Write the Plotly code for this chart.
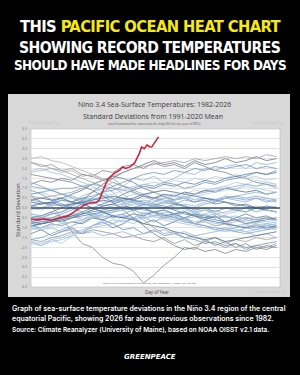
import plotly.graph_objects as go

# ---------------- data ----------------
days = list(range(1, 366, 15))  # 1,16,...,361

years = list(range(1982, 2026))
sd_values = {
    1982: [0.1,0.0,0.2,0.1,0.3,0.6,0.8,1.0,1.3,1.1,1.5,1.4,1.6,1.3,1.5,1.8,1.7,2.0,1.9,2.1,2.2,2.0,2.3,2.2,2.3],
    1983: [2.3,2.1,2.2,1.9,2.0,1.7,1.6,1.4,1.5,1.1,0.9,0.7,0.5,0.6,0.2,0.1,-0.3,-0.5,-0.4,-0.8,-0.9,-1.0,-0.8,-1.1,-0.9],
    1984: [-0.3,-0.4,-0.2,-0.5,-0.3,-0.6,-0.4,-0.2,-0.5,-0.3,-0.6,-0.4,-0.7,-0.5,-0.3,-0.6,-0.4,-0.7,-0.9,-0.8,-1.1,-1.2,-1.4,-1.3,-1.5],
    1985: [-1.3,-1.1,-1.4,-1.2,-1.0,-1.3,-0.9,-0.7,-1.0,-0.8,-0.5,-0.8,-0.6,-0.9,-0.7,-0.5,-0.8,-0.6,-0.4,-0.7,-0.5,-0.3,-0.5,-0.4,-0.6],
    1986: [-0.6,-0.7,-0.5,-0.8,-0.4,-0.6,-0.3,-0.5,-0.2,0.0,0.2,0.1,0.3,0.5,0.4,0.7,0.9,0.8,1.0,1.1,0.9,1.2,1.1,1.3,1.2],
    1987: [1.2,1.4,1.3,1.5,1.4,1.7,1.6,1.9,1.8,2.1,2.2,2.0,2.3,2.1,2.2,2.0,2.3,2.1,1.9,1.8,1.6,1.5,1.3,1.2,1.1],
    1988: [0.6,0.3,0.1,-0.5,-1.2,-1.8,-2.0,-2.5,-2.8,-2.9,-3.2,-3.8,-3.4,-2.9,-2.5,-2.0,-2.1,-1.6,-1.9,-1.7,-2.0,-1.8,-2.1,-1.9,-2.0],
    1989: [-1.7,-1.9,-1.6,-1.8,-1.4,-1.2,-0.9,-0.6,-0.8,-0.4,-0.5,-0.2,-0.4,-0.3,-0.5,-0.2,-0.4,-0.3,-0.1,-0.3,-0.2,0.0,-0.2,0.1,0.0],
    1990: [0.1,0.3,0.2,0.4,0.3,0.5,0.4,0.6,0.5,0.3,0.4,0.2,0.5,0.3,0.4,0.6,0.4,0.5,0.3,0.5,0.4,0.3,0.5,0.4,0.3],
    1991: [0.4,0.3,0.2,0.4,0.3,0.5,0.6,0.8,0.9,1.1,1.0,1.2,1.1,1.3,1.2,1.0,1.1,1.3,1.2,1.4,1.5,1.6,1.8,1.7,1.9],
    1992: [1.8,1.9,2.0,1.8,1.9,1.6,1.7,1.5,1.3,1.1,0.8,0.6,0.4,0.2,0.3,0.0,-0.2,-0.1,-0.3,-0.2,-0.1,0.0,0.1,0.0,0.1],
    1993: [0.1,0.2,0.3,0.5,0.7,0.9,1.2,1.4,1.6,1.5,1.3,1.0,0.8,0.6,0.4,0.5,0.3,0.4,0.2,0.3,0.1,0.2,0.0,0.1,0.0],
    1994: [0.0,-0.1,0.1,0.2,0.1,0.3,0.4,0.5,0.6,0.5,0.7,0.6,0.8,0.6,0.7,0.5,0.7,0.9,1.0,1.1,1.3,1.2,1.4,1.3,1.2],
    1995: [1.1,1.0,0.9,0.7,0.6,0.4,0.3,0.1,0.2,0.0,-0.1,-0.3,-0.2,-0.5,-0.4,-0.7,-0.8,-0.9,-1.1,-1.0,-1.2,-1.0,-1.1,-0.9,-1.0],
    1996: [-0.9,-1.0,-0.8,-0.9,-0.7,-0.8,-0.5,-0.6,-0.4,-0.5,-0.3,-0.4,-0.2,-0.4,-0.3,-0.5,-0.3,-0.4,-0.5,-0.4,-0.6,-0.5,-0.6,-0.5,-0.6],
    1997: [-0.6,-0.5,-0.3,-0.2,0.1,0.4,0.8,1.2,1.5,1.8,2.0,2.2,2.4,2.2,2.3,2.1,2.4,2.2,2.3,2.5,2.3,2.4,2.6,2.4,2.5],
    1998: [2.3,2.2,2.0,1.9,1.7,1.5,1.3,1.1,0.8,0.3,-0.2,-0.6,-1.0,-1.3,-1.2,-1.5,-1.4,-1.7,-1.5,-1.8,-1.6,-1.7,-1.5,-1.6,-1.5],
    1999: [-1.6,-1.7,-1.5,-1.4,-1.2,-1.3,-1.1,-1.2,-1.3,-1.5,-1.4,-1.6,-1.7,-1.5,-1.8,-1.6,-1.9,-1.7,-1.8,-2.0,-1.8,-2.1,-1.9,-2.0,-1.8],
    2000: [-1.8,-1.9,-1.7,-1.6,-1.4,-1.2,-1.0,-0.9,-0.8,-0.6,-0.8,-0.5,-0.7,-0.4,-0.6,-0.5,-0.7,-0.6,-0.8,-0.7,-0.9,-0.8,-1.0,-0.9,-0.8],
    2001: [-0.8,-0.7,-0.6,-0.5,-0.4,-0.3,-0.2,-0.1,0.0,0.1,0.0,0.2,0.1,0.0,0.2,0.1,-0.1,0.0,-0.2,0.0,-0.1,-0.2,0.0,-0.1,-0.2],
    2002: [-0.1,0.0,0.1,0.2,0.1,0.3,0.4,0.6,0.7,0.9,1.1,1.2,1.3,1.2,1.4,1.3,1.5,1.4,1.6,1.5,1.7,1.5,1.6,1.4,1.5],
    2003: [1.3,1.1,0.9,0.7,0.5,0.3,0.0,-0.2,-0.4,-0.3,-0.1,0.0,0.1,0.3,0.2,0.4,0.3,0.5,0.4,0.6,0.5,0.4,0.5,0.3,0.4],
    2004: [0.3,0.2,0.3,0.1,0.2,0.3,0.2,0.4,0.3,0.5,0.4,0.6,0.5,0.7,0.6,0.8,0.7,0.9,0.8,1.0,0.9,0.8,0.9,0.7,0.8],
    2005: [0.7,0.8,0.6,0.5,0.6,0.4,0.5,0.3,0.4,0.2,0.3,0.1,0.2,0.0,-0.1,0.0,-0.2,-0.1,-0.3,-0.4,-0.6,-0.7,-0.8,-0.9,-0.8],
    2006: [-0.9,-0.8,-0.7,-0.6,-0.4,-0.3,-0.1,0.0,0.1,0.2,0.3,0.4,0.3,0.5,0.6,0.5,0.7,0.8,0.9,1.0,1.1,1.2,1.1,1.2,1.0],
    2007: [0.9,0.7,0.4,0.2,0.0,-0.2,-0.4,-0.6,-0.8,-1.1,-1.0,-1.3,-1.1,-1.4,-1.3,-1.5,-1.6,-1.8,-1.7,-1.9,-1.8,-2.0,-1.9,-1.8,-1.7],
    2008: [-1.7,-1.8,-1.6,-1.5,-1.3,-1.1,-0.9,-0.8,-0.6,-0.7,-0.5,-0.3,-0.4,-0.2,-0.3,-0.1,-0.2,-0.4,-0.3,-0.5,-0.4,-0.6,-0.7,-0.8,-0.9],
    2009: [-0.9,-0.8,-0.7,-0.5,-0.4,-0.2,0.0,0.2,0.4,0.7,0.9,1.1,1.0,1.2,1.1,1.3,1.2,1.4,1.3,1.5,1.6,1.7,1.8,1.7,1.8],
    2010: [1.7,1.6,1.5,1.4,1.3,1.1,0.9,0.6,0.3,-0.1,-0.5,-0.9,-1.3,-1.6,-1.9,-2.1,-2.0,-2.2,-2.1,-2.3,-2.1,-2.2,-2.0,-2.1,-1.9],
    2011: [-1.6,-1.5,-1.3,-1.1,-0.9,-0.7,-0.5,-0.3,-0.2,-0.1,0.0,-0.1,-0.2,-0.3,-0.5,-0.6,-0.8,-0.9,-1.0,-1.1,-1.2,-1.3,-1.2,-1.1,-1.0],
    2012: [-0.9,-0.8,-0.7,-0.6,-0.5,-0.3,-0.1,0.1,0.2,0.4,0.5,0.7,0.8,0.9,0.8,0.7,0.6,0.5,0.4,0.3,0.2,0.1,0.0,-0.1,-0.2],
    2013: [-0.3,-0.4,-0.5,-0.4,-0.3,-0.2,-0.3,-0.4,-0.5,-0.4,-0.6,-0.5,-0.4,-0.3,-0.4,-0.2,-0.3,-0.1,-0.2,0.0,-0.1,0.0,-0.2,-0.1,-0.2],
    2014: [-0.4,-0.5,-0.3,-0.2,0.0,0.2,0.4,0.6,0.5,0.4,0.3,0.2,0.1,0.0,0.1,0.2,0.1,0.3,0.4,0.5,0.6,0.7,0.8,0.7,0.8],
    2015: [0.6,0.5,0.6,0.7,0.8,1.0,1.2,1.4,1.6,1.8,2.0,2.1,2.2,2.3,2.4,2.3,2.5,2.4,2.5,2.6,2.5,2.6,2.5,2.7,2.6],
    2016: [2.5,2.6,2.4,2.3,2.1,1.9,1.7,1.4,1.1,0.7,0.3,0.0,-0.3,-0.5,-0.6,-0.7,-0.8,-0.7,-0.9,-0.8,-0.7,-0.6,-0.7,-0.5,-0.6],
    2017: [-0.5,-0.4,-0.2,0.0,0.2,0.3,0.4,0.5,0.6,0.5,0.4,0.3,0.2,0.1,-0.1,-0.3,-0.4,-0.6,-0.7,-0.8,-0.9,-1.0,-0.9,-1.0,-0.9],
    2018: [-0.9,-1.0,-0.8,-0.9,-0.7,-0.6,-0.4,-0.3,-0.1,0.1,0.2,0.3,0.2,0.3,0.4,0.5,0.6,0.7,0.8,0.9,1.0,1.1,1.0,0.9,0.8],
    2019: [0.7,0.8,0.9,1.0,1.0,1.1,1.2,1.1,1.0,0.9,0.8,0.6,0.5,0.4,0.3,0.1,0.0,0.2,0.3,0.5,0.6,0.5,0.6,0.5,0.4],
    2020: [0.4,0.5,0.4,0.5,0.3,0.2,0.0,-0.2,-0.4,-0.5,-0.6,-0.8,-0.9,-1.0,-1.2,-1.3,-1.5,-1.6,-1.5,-1.7,-1.6,-1.5,-1.4,-1.3,-1.2],
    2021: [-1.1,-1.0,-0.9,-0.8,-0.7,-0.6,-0.5,-0.4,-0.5,-0.4,-0.3,-0.5,-0.4,-0.6,-0.7,-0.8,-0.9,-1.0,-1.1,-1.2,-1.1,-1.2,-1.1,-1.0,-1.1],
    2022: [-1.0,-1.1,-1.0,-1.2,-1.1,-1.3,-1.2,-1.4,-1.3,-1.2,-1.4,-1.3,-1.2,-1.1,-1.3,-1.2,-1.4,-1.3,-1.2,-1.1,-1.0,-0.9,-1.0,-0.8,-0.7],
    2023: [-0.7,-0.6,-0.5,-0.3,-0.1,0.2,0.5,0.8,1.1,1.3,1.5,1.7,1.8,1.7,1.9,1.8,2.0,1.9,2.1,2.0,2.1,2.2,2.0,2.1,2.0],
    2024: [1.9,2.0,1.8,1.7,1.5,1.3,1.1,0.8,0.5,0.3,0.1,0.0,-0.2,-0.1,-0.3,-0.2,-0.4,-0.3,-0.5,-0.4,-0.6,-0.5,-0.6,-0.7,-0.6],
    2025: [-0.7,-0.8,-0.6,-0.7,-0.5,-0.4,-0.3,-0.2,-0.1,0.0,-0.1,0.0,-0.2,-0.1,-0.3,-0.2,-0.4,-0.5,-0.6,-0.7,-0.6,-0.8,-0.7,-0.6,-0.5],
}

days_2026 = [1, 10, 20, 30, 43, 55, 62, 72, 79, 87, 97, 101, 107, 113, 118, 123, 131, 135, 140, 146, 153, 160, 163, 167, 171, 175, 178, 182, 185, 188]
sd_2026 = [-0.56, -0.6, -0.55, -0.62, -0.5, -0.4, -0.25, 0.0, 0.15, 0.25, 0.3, 0.4, 0.9, 1.42, 1.6, 1.75, 1.92, 2.08, 2.0, 2.08, 2.28, 2.78, 3.09, 3.0, 3.19, 3.1, 3.09, 3.34, 3.45, 3.6]

y_ticks = [4.0, 3.5, 3.0, 2.5, 2.0, 1.5, 1.0, 0.5, 0.0, -0.5, -1.0, -1.5, -2.0, -2.5, -3.0, -3.5, -4.0]
y_tick_labels = ["4.0", "3.5", "3.0", "2.5", "2.0", "1.5", "1.0", "0.5", "0.0", "-0.5", "-1.0", "-1.5", "-2.0", "-2.5", "-3.0", "-3.5", "-4.0"]

# ---------------- styling ----------------
blues = ["#8fb3d9", "#6d93bf", "#9dbfe0", "#5b7fa8", "#b5cce3", "#7aa3cf", "#4f6f94", "#a6c3e0"]
grays = {1983: "#9a9a9a", 1987: "#7c838c", 1988: "#8a8a8a", 1992: "#b0b0b0", 1997: "#6f7680",
         1998: "#a3a3a3", 2010: "#7c838c", 2015: "#9aa1a8", 2016: "#b3b3b3", 1999: "#8d939a"}

W, H = 300, 375
L, R, T, B = 31, 20, 129, 88
PW, PH = W - L - R, H - T - B


def px(x):
    return (x - L) / PW


def py(y):
    return (H - B - y) / PH


fig = go.Figure()
for i, yr in enumerate(years):
    col = grays.get(yr, blues[i % len(blues)])
    fig.add_trace(go.Scatter(x=days, y=sd_values[yr], mode="lines", name=str(yr),
                             line=dict(color=col, width=0.8),
                             showlegend=False, hoverinfo="skip"))

fig.add_trace(go.Scatter(x=[1, 366], y=[0, 0], mode="lines",
                         line=dict(color="#3d5169", width=1.4), showlegend=False, hoverinfo="skip"))
fig.add_trace(go.Scatter(x=days_2026, y=sd_2026, mode="lines", name="2026",
                         line=dict(color="#c8283f", width=1.6), showlegend=False))

shapes = [
    dict(type="rect", xref="paper", yref="paper", x0=px(8), x1=px(290), y0=py(297), y1=py(94),
         fillcolor="#d8d8d8", line=dict(width=0), layer="below"),
    dict(type="rect", xref="paper", yref="paper", x0=0, x1=1, y0=0, y1=1,
         fillcolor="#ffffff", line=dict(color="#bdbdbd", width=0.6), layer="below"),
]

head_font = "DejaVu Sans Condensed, Liberation Sans Narrow, sans-serif"
tight = "<span style='letter-spacing:-0.6px'>"
body_font = "Inter, sans-serif"
annotations = [
    dict(text="<b>" + tight + "THIS <span style='color:#f6e816'>PACIFIC OCEAN HEAT CHART</span></span></b>",
         x=px(150), y=py(27), font=dict(family=head_font, size=16.4, color="#ffffff")),
    dict(text="<b>" + tight + "SHOWING RECORD TEMPERATURES</span></b>",
         x=px(150), y=py(48), font=dict(family=head_font, size=15.6, color="#ffffff")),
    dict(text="<b>" + tight + "SHOULD HAVE MADE HEADLINES FOR DAYS</span></b>",
         x=px(150), y=py(65), font=dict(family=head_font, size=13.4, color="#ffffff")),
    dict(text="Nino 3.4 Sea-Surface Temperatures: 1982-2026",
         x=px(154), y=py(104), font=dict(family="Open Sans, sans-serif", size=7, color="#3a3a3a")),
    dict(text="Standard Deviations from 1991-2020 Mean",
         x=px(153), y=py(116), font=dict(family="Open Sans, sans-serif", size=7, color="#3a3a3a")),
    dict(text="(each horizontal line represents the daily SDs for one year of SSTs)",
         x=px(154), y=py(124), font=dict(family="Open Sans, sans-serif", size=3, color="#555555")),
    dict(text="Standard Deviation", textangle=-90,
         x=px(18), y=py(210), font=dict(family="Open Sans, sans-serif", size=6, color="#3a3a3a")),
    dict(text="Day of Year",
         x=px(157), y=py(292), font=dict(family="Open Sans, sans-serif", size=4.5, color="#3a3a3a")),
    dict(text="Data: https://climatereanalyzer.org/clim/sst_daily/json/oisst2.1_nino3.4_sst_day.json",
         x=px(150), y=py(283), font=dict(family="Open Sans, sans-serif", size=2.4, color="#555555")),
    dict(text="ClimateReanalyzer.org", x=px(44), y=py(123),
         font=dict(family="Open Sans, sans-serif", size=3, color="#c4c4c4")),
    dict(text="ClimateReanalyzer.org", x=px(268), y=py(123),
         font=dict(family="Open Sans, sans-serif", size=3, color="#c4c4c4")),
    dict(text="ClimateReanalyzer.org", x=px(270), y=py(292),
         font=dict(family="Open Sans, sans-serif", size=3, color="#c4c4c4")),
    dict(text="Graph of sea-surface temperature deviations in the Niño 3.4 region of the central",
         x=px(10), y=py(308), xanchor="left", align="left",
         font=dict(family=body_font, size=7, weight=600, color="#ffffff")),
    dict(text="equatorial Pacific, showing 2026 far above previous observations since 1982.",
         x=px(10), y=py(318.5), xanchor="left", align="left",
         font=dict(family=body_font, size=7, weight=600, color="#ffffff")),
    dict(text="Source: Climate Reanalyzer (University of Maine), based on NOAA OISST v2.1 data.",
         x=px(10), y=py(330), xanchor="left", align="left",
         font=dict(family=body_font, size=6.45, weight=600, color="#ffffff")),
    dict(text="<b><i>GREENPEACE</i></b>",
         x=px(150), y=py(357), font=dict(family="DejaVu Sans, sans-serif", size=7, color="#ffffff")),
]
for a in annotations:
    a.setdefault("xref", "paper")
    a.setdefault("yref", "paper")
    a.setdefault("showarrow", False)
    a.setdefault("xanchor", "center")
    a.setdefault("yanchor", "middle")

fig.update_layout(
    width=W, height=H,
    margin=dict(l=L, r=R, t=T, b=B, pad=0),
    paper_bgcolor="#000000",
    plot_bgcolor="rgba(0,0,0,0)",
    shapes=shapes,
    annotations=annotations,
    xaxis=dict(range=[1, 366], showticklabels=False, showgrid=False, zeroline=False,
               showline=False, ticks=""),
    yaxis=dict(range=[-4, 4], tickvals=y_ticks, ticktext=y_tick_labels,
               tickfont=dict(family="Open Sans, sans-serif", size=3.5, color="#777777"),
               showgrid=True, gridcolor="#e4e4e4", gridwidth=0.6, zeroline=False,
               showline=False, ticks="", ticklabelstandoff=3),
)

fig.write_html("out.html")
